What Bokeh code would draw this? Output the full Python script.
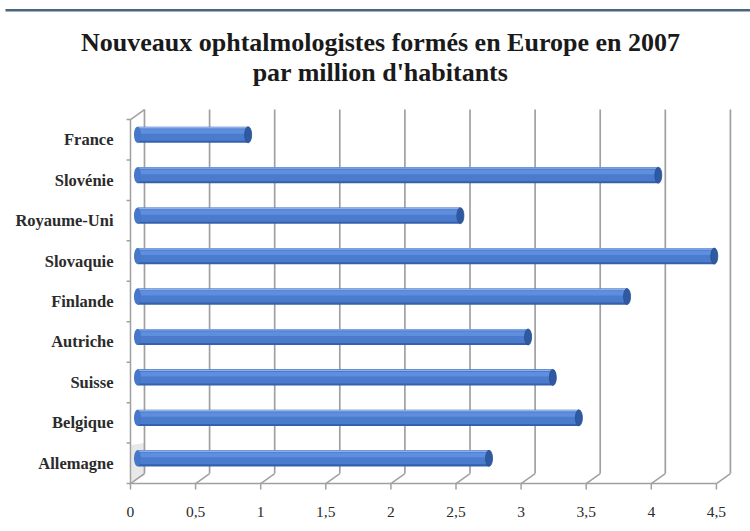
from bokeh.plotting import figure
from bokeh.layouts import column
from bokeh.models import Range1d, LinearAxis, FixedTicker, ColumnDataSource
from bokeh.core.properties import value
from bokeh.embed import file_html
from bokeh.resources import INLINE

# ---- data ----
countries = ["France", "Slovénie", "Royaume-Uni", "Slovaquie", "Finlande",
             "Autriche", "Suisse", "Belgique", "Allemagne"]
values = [0.85, 4.00, 2.48, 4.43, 3.76, 3.00, 3.19, 3.39, 2.70]
x_ticks = [0, 0.5, 1, 1.5, 2, 2.5, 3, 3.5, 4, 4.5]
x_tick_labels = ["0", "0,5", "1", "1,5", "2", "2,5", "3", "3,5", "4", "4,5"]
title_lines = ["Nouveaux ophtalmologistes formés en Europe en 2007",
               "par million d'habitants"]

SERIF = "Liberation Serif"

# ---- header strip: slide rule + two-line title ----
TOP_H = 92
head = figure(width=750, height=TOP_H, output_backend="svg", toolbar_location=None,
              x_range=Range1d(0, 750), y_range=Range1d(TOP_H, 0),
              x_axis_type=None, y_axis_type=None, min_border=0)
head.outline_line_color = None
head.xgrid.visible = False
head.ygrid.visible = False
head.quad(left=[5], right=[750], top=[8.5], bottom=[11], fill_color="#4a6580",
          line_color=None)
head.text(x=[380, 380], y=[42, 72], text=title_lines, text_align="center",
          text_baseline="middle", text_font=value(SERIF), text_font_style="bold",
          text_font_size="26px", text_color="#1a1a1a")

# ---- 3D-look geometry (depth offset of the back wall, in data units) ----
DX = 0.1075
DY = 0.247
n = len(countries)
ys = [n - 1 - i for i in range(n)]          # France at top
y_lo, y_hi = -0.5, n - 0.5

p = figure(width=750, height=531 - TOP_H, output_backend="svg", toolbar_location=None,
           x_range=Range1d(-0.046, 4.685), y_range=Range1d(-0.722, 8.971),
           x_axis_type=None, y_axis_type=None,
           min_border_left=124, min_border_right=10, min_border_top=8,
           min_border_bottom=39)
p.outline_line_color = None
p.xgrid.visible = False
p.ygrid.visible = False

grid_col = "#a0a0a0"
# back wall vertical gridlines
p.segment(x0=[t + DX for t in x_ticks], y0=[y_lo + DY] * len(x_ticks),
          x1=[t + DX for t in x_ticks], y1=[y_hi + DY] * len(x_ticks),
          line_color=grid_col, line_width=1.7)
# floor diagonals
p.segment(x0=x_ticks, y0=[y_lo] * len(x_ticks),
          x1=[t + DX for t in x_ticks], y1=[y_lo + DY] * len(x_ticks),
          line_color=grid_col, line_width=1.5)
# front ticks under the floor
p.segment(x0=x_ticks, y0=[y_lo] * len(x_ticks), x1=x_ticks,
          y1=[y_lo - 0.15] * len(x_ticks), line_color=grid_col, line_width=1.5)
# front floor edge
p.segment(x0=[x_ticks[0]], y0=[y_lo], x1=[x_ticks[-1]], y1=[y_lo],
          line_color=grid_col, line_width=1.5)
# left wall front edge + top diagonal
p.segment(x0=[0], y0=[y_lo], x1=[0], y1=[y_hi], line_color=grid_col, line_width=1.5)
p.segment(x0=[0], y0=[y_hi], x1=[DX], y1=[y_hi + DY], line_color=grid_col, line_width=1.5)
# left wall ticks between categories
bounds = [y_lo + k for k in range(n + 1)]
p.segment(x0=[-0.03] * len(bounds), y0=bounds, x1=[0] * len(bounds), y1=bounds,
          line_color=grid_col, line_width=1.5)
# shadow on the wall near the bottom bar
p.patch(x=[0.006, DX, DX, 0.006],
        y=[y_lo + 0.05, y_lo + 0.05 + DY * 0.6, y_lo + 1.0, y_lo + 0.95],
        fill_color="#8a8a8a", fill_alpha=0.2, line_color=None)

# ---- cylinders ----
yb = [y + DY / 2 for y in ys]
src = ColumnDataSource(dict(
    y=yb,
    left=[DX / 2] * n,
    right=[v + DX / 2 for v in values],
    y_main=[y + 0.02 for y in yb],
    y_hl=[y + 0.08 for y in yb],
    y_top=[y + 0.175 for y in yb],
))
p.hbar(y="y", left="left", right="right", height=0.40, source=src,
       fill_color="#3461ad", line_color=None)
p.hbar(y="y_main", left="left", right="right", height=0.34, source=src,
       fill_color="#4a7bcc", line_color=None)
p.hbar(y="y_hl", left="left", right="right", height=0.11, source=src,
       fill_color="#5f8ede", line_color=None)
p.hbar(y="y_top", left="left", right="right", height=0.035, source=src,
       fill_color="#8db0ea", line_color=None)
# rounded start
p.ellipse(x="left", y="y", width=7, height=16, width_units="screen",
          height_units="screen", source=src, fill_color="#4677c9", line_color=None)
# end caps
p.ellipse(x="right", y="y", width=7, height=16, width_units="screen",
          height_units="screen", source=src, fill_color="#2f5aa2",
          line_color="#284f92", line_width=0.8)

# ---- axes ----
yaxis = LinearAxis(ticker=FixedTicker(ticks=ys),
                   major_label_overrides={y: c for y, c in zip(ys, countries)})
yaxis.axis_line_color = None
yaxis.major_tick_line_color = None
yaxis.minor_tick_line_color = None
yaxis.major_tick_out = 0
yaxis.major_tick_in = 0
yaxis.major_label_standoff = 11
yaxis.major_label_text_font = SERIF
yaxis.major_label_text_font_style = "bold"
yaxis.major_label_text_font_size = "16.5px"
yaxis.major_label_text_color = "#2b2b2b"
p.add_layout(yaxis, "left")

xaxis = LinearAxis(ticker=FixedTicker(ticks=x_ticks),
                   major_label_overrides={t: l for t, l in zip(x_ticks, x_tick_labels)})
xaxis.axis_line_color = None
xaxis.major_tick_line_color = None
xaxis.minor_tick_line_color = None
xaxis.major_tick_out = 0
xaxis.major_tick_in = 0
xaxis.major_label_standoff = 14
xaxis.major_label_text_font = SERIF
xaxis.major_label_text_font_size = "15.5px"
xaxis.major_label_text_color = "#2b2b2b"
p.add_layout(xaxis, "below")

layout = column(column(head), p, spacing=0)
open("out.html", "w").write(file_html(layout, INLINE))
